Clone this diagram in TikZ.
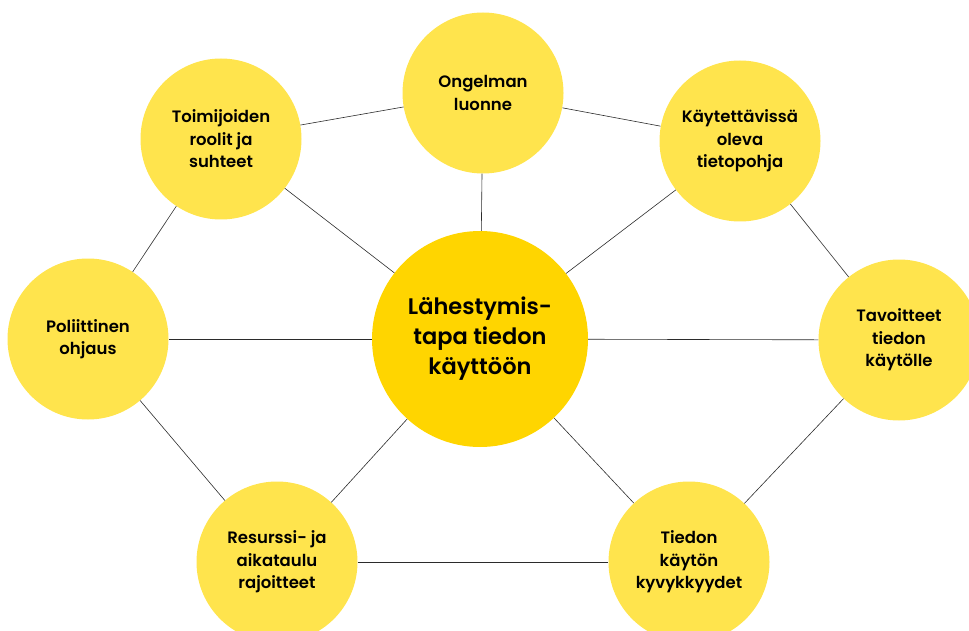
\documentclass[tikz,border=0pt]{standalone}
\usepackage{fontspec}
\setmainfont{Poppins}[BoldFont={Poppins SemiBold}]
\usetikzlibrary{positioning}

\definecolor{topicyellow}{HTML}{FFE44D}
\definecolor{coreyellow}{HTML}{FFD500}
\definecolor{linkgray}{HTML}{2B2B2B}

\begin{document}
\begin{tikzpicture}[
  x=1pt, y=-1pt,
  topic/.style={circle, fill=topicyellow, minimum size=161pt, inner sep=0pt,
                align=center, font=\fontsize{16.5}{22.5}\selectfont\bfseries},
  core/.style={circle, fill=coreyellow, minimum size=216pt, inner sep=0pt,
               align=center, font=\fontsize{22.5}{30}\selectfont\bfseries},
  link/.style={draw=linkgray, line width=0.6pt}
]
\clip (0,0) rectangle (969,631);
\useasboundingbox (0,0) rectangle (969,631);

% Centre and the surrounding factors
\node[core] (approach) at (480,339) {Lähestymis-\\tapa tiedon\\käyttöön};
\node[topic] (problem) at (483,93) {Ongelman\\luonne};
\node[topic] (actors) at (221,139) {Toimijoiden\\roolit ja\\suhteet};
\node[topic] (knowledge) at (740,141) {Käytettävissä\\oleva\\tietopohja};
\node[topic] (policy) at (88,339) {Poliittinen\\ohjaus};
\node[topic] (goals) at (899,340) {Tavoitteet\\tiedon\\käytölle};
\node[topic] (resources) at (277,562) {Resurssi- ja\\aikataulu\\rajoitteet};
\node[topic] (capacity) at (689,562) {Tiedon\\käytön\\kyvykkyydet};

% Spokes from the centre
\foreach \n in {problem,actors,knowledge,policy,goals,resources,capacity}
  \draw[link] (approach) -- (\n);

% Outer ring
\draw[link] (actors) -- (problem);
\draw[link] (problem) -- (knowledge);
\draw[link] (actors) -- (policy);
\draw[link] (knowledge) -- (goals);
\draw[link] (policy) -- (resources);
\draw[link] (goals) -- (capacity);
\draw[link] (resources) -- (capacity);

\end{tikzpicture}
\end{document}
